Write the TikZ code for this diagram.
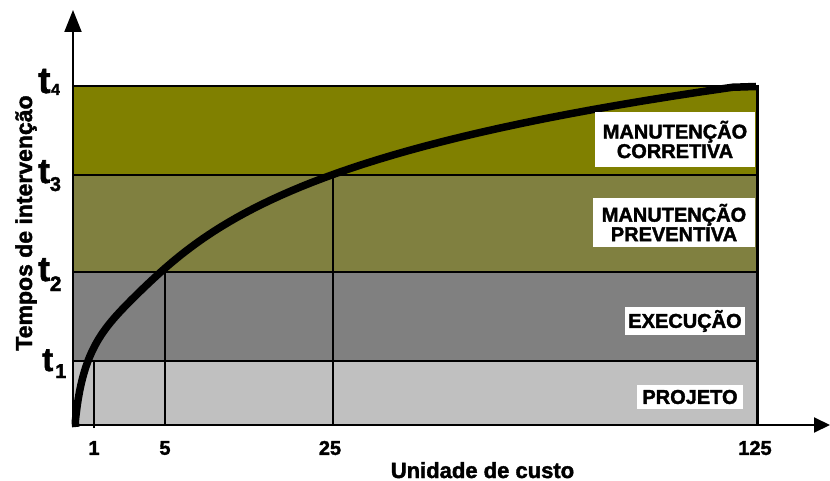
\documentclass[tikz,border=0pt]{standalone}
\usepackage{fontspec}
\setmainfont{Liberation Sans}[BoldFeatures={FakeBold=1.8}]
\usetikzlibrary{arrows.meta}
\definecolor{olivetop}{RGB}{128,128,0}
\definecolor{olivemid}{RGB}{128,128,64}
\definecolor{graymid}{RGB}{128,128,128}
\definecolor{graylight}{RGB}{192,192,192}
\tikzset{
  gridline/.style={draw=black, line width=1.5pt},
  bandline/.style={draw=black, line width=2pt},
  labelbox/.style={fill=white, inner sep=0pt, align=center, font=\bfseries\fontsize{20}{19.5}\selectfont},
  ticklabel/.style={inner sep=0pt, font=\bfseries\fontsize{20}{20}\selectfont},
  tlabel/.style={inner sep=0pt, anchor=base west, font=\bfseries},
  axisline/.style={draw=black, line width=2pt},
  costcurve/.style={draw=black, line width=7.5pt, line join=round},
}
\begin{document}
\begin{tikzpicture}[x=1pt,y=-1pt]
\useasboundingbox (0,0) rectangle (830,481);
% bands
\fill[olivetop] (73,86) rectangle (757,175);
\fill[olivemid] (73,175) rectangle (757,272);
\fill[graymid] (73,272) rectangle (757,361);
\fill[graylight] (73,361) rectangle (757,425);
% band borders
\draw[bandline] (73,86) -- (757,86);
\draw[bandline, line width=2.8pt] (73,175) -- (757,175);
\draw[bandline] (73,272) -- (757,272);
\draw[bandline] (73,361) -- (757,361);
% vertical grid lines
\draw[gridline] (165,425) -- (165,272);
\draw[gridline] (333,425) -- (333,175);
\draw[gridline, line width=2.8pt] (94,428) -- (94,361);
\draw[draw=black, line width=3pt] (757,85) -- (757,426);
% curve
\coordinate (cstart) at (75.8,427);
\coordinate (cend) at (756,86.5);
\draw[costcurve] (cstart) -- plot[domain=-1.2:6.49, samples=160, variable=\s]
  ({75+exp(\s)}, {425 - (45*ln(1+exp(\s)/4.13) + 12.2*ln(1+(exp(\s)/70)^4))}) -- (cend);
% label boxes
\node[labelbox, minimum width=160, minimum height=55] (corr) at (675,139.5) {MANUTENÇÃO\\CORRETIVA};
\node[labelbox, minimum width=162, minimum height=49] (prev) at (674,222.5) {MANUTENÇÃO\\PREVENTIVA};
\node[labelbox, minimum width=120, minimum height=28] (exec) at (685,321) {EXECUÇÃO};
\node[labelbox, minimum width=106, minimum height=24] (proj) at (690,397) {PROJETO};
% axes
\draw[axisline, -{Triangle[length=22pt,width=17pt]}] (73,426) -- (73,10);
\draw[axisline, -{Triangle[length=16pt,width=15pt]}] (72,425) -- (830,425);
% tick labels
\node[ticklabel] (x1) at (94,448) {1};
\node[ticklabel] (x5) at (165,448) {5};
\node[ticklabel] (x25) at (330,448) {25};
\node[ticklabel] (x125) at (755,448) {125};
\node[inner sep=0pt, anchor=base, font=\bfseries\fontsize{22}{22}\selectfont] (xlab) at (482.5,478) {Unidade de custo};
\node[inner sep=0pt, anchor=base, rotate=90, font=\bfseries\fontsize{23}{23}\selectfont] (ylab) at (32,223) {Tempos de intervenção};
% t labels
\node[tlabel] (t4) at (38,93) {\fontsize{37}{37}\selectfont t\kern0.5pt\raisebox{-2pt}{\fontsize{16}{16}\selectfont 4}};
\node[tlabel] (t3) at (38,183) {\fontsize{35}{35}\selectfont t\raisebox{-8pt}{\fontsize{20}{20}\selectfont 3}};
\node[tlabel] (t2) at (38,281) {\fontsize{35}{35}\selectfont t\raisebox{-10pt}{\fontsize{21}{21}\selectfont 2}};
\node[tlabel] (t1) at (42,371) {\fontsize{33}{33}\selectfont t\kern2pt\raisebox{-7pt}{\fontsize{20}{20}\selectfont 1}};
\end{tikzpicture}
\end{document}
